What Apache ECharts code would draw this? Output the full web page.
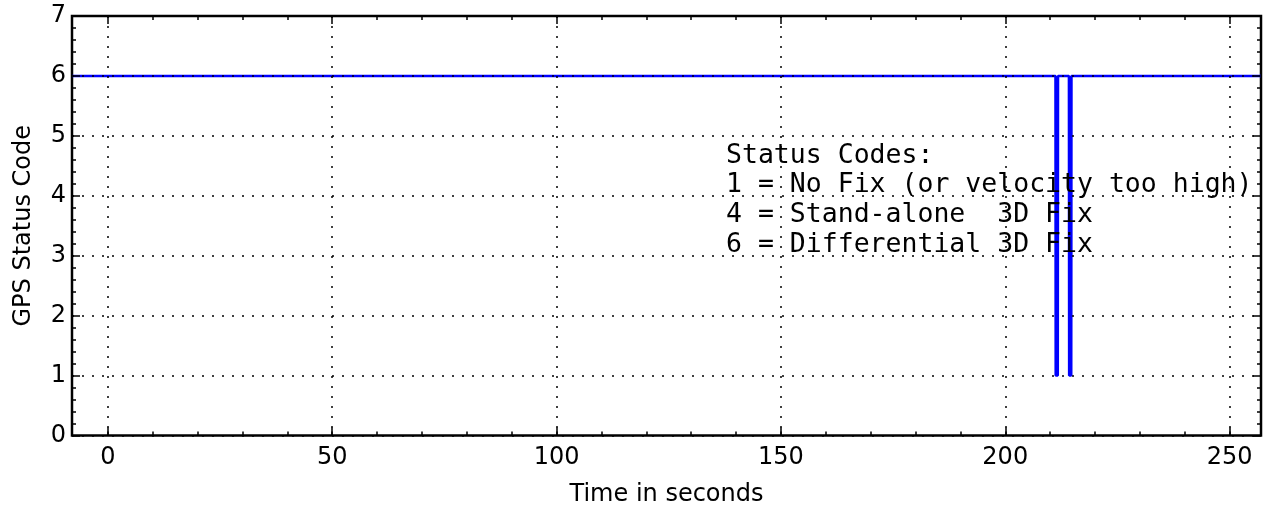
<!DOCTYPE html>
<html>
<head>
<meta charset="utf-8">
<title>GPS Status Code</title>
<script src="https://cdn.jsdelivr.net/npm/echarts@6/dist/echarts.min.js"></script>
<style>
	html, body { margin: 0; padding: 0; background: #fff; }
	#chart { width: 1267px; height: 506px; }
</style>
</head>
<body>
<div id="chart"></div>
<script>
// gps status over time
var times = [-8, 211.2, 211.25, 211.7, 211.75, 214.2, 214.25, 214.7, 214.75, 257]
var gpsStatus = [6, 6, 1, 1, 6, 6, 1, 1, 6, 6]

var xMajorTicks = [0, 50, 100, 150, 200, 250]
var xMinorTicks = [0, 10, 20, 30, 40, 50, 60, 70, 80, 90, 100, 110, 120, 130, 140, 150,
	160, 170, 180, 190, 200, 210, 220, 230, 240, 250]

var legendLines = [
	'Status Codes:',
	'1 = No Fix (or velocity too high)',
	'4 = Stand-alone  3D Fix',
	'6 = Differential 3D Fix'
]

var sans = 'DejaVu Sans'
var mono = 'DejaVu Sans Mono'

function xAxisOf(pos, ticks, len, withLabels) {
	return {
		type: 'value',
		position: pos,
		min: -8,
		max: 257,
		z: withLabels ? 5 : 4,
		axisLine: { show: false, onZero: false },
		axisTick: {
			show: true,
			inside: true,
			length: len,
			customValues: ticks,
			lineStyle: { color: '#000', width: 1.5 }
		},
		axisLabel: {
			show: withLabels,
			customValues: xMajorTicks,
			margin: 10,
			color: '#000',
			fontFamily: sans,
			fontSize: 24
		},
		splitLine: { show: false }
	}
}

function yAxisOf(pos, withLabels) {
	return {
		type: 'value',
		position: pos,
		min: 0,
		max: 7,
		interval: 1,
		z: 5,
		axisLine: { show: false, onZero: false },
		axisTick: { show: true, inside: true, length: 8, lineStyle: { color: '#000', width: 1.5 } },
		minorTick: { show: true, splitNumber: 5, length: 4, lineStyle: { color: '#000', width: 1.5 } },
		axisLabel: { show: withLabels, margin: 6, color: '#000', fontFamily: sans, fontSize: 24 },
		splitLine: {
			show: withLabels,
			lineStyle: { color: '#000', width: 1.5, type: [2, 8] }
		}
	}
}

var chart = echarts.init(document.getElementById('chart'))

var xMain = xAxisOf('bottom', xMajorTicks, 8, true)
xMain.name = 'Time in seconds'
xMain.nameLocation = 'middle'
xMain.nameGap = 47
xMain.nameTextStyle = { color: '#000', fontFamily: sans, fontSize: 24 }
xMain.splitLine = { show: true, lineStyle: { color: '#000', width: 1.5, type: [2, 8] } }

var yMain = yAxisOf('left', true)
yMain.name = 'GPS Status Code'
yMain.nameLocation = 'middle'
yMain.nameGap = 36
yMain.nameTextStyle = { color: '#000', fontFamily: sans, fontSize: 24 }

var seriesData = times.map(function (t, i) { return [t, gpsStatus[i]] })

chart.setOption({
	animation: false,
	backgroundColor: '#fff',
	grid: {
		left: 72,
		top: 16,
		right: 6,
		bottom: 70.5,
		outerBoundsMode: 'none',
		containLabel: false,
		show: true,
		borderColor: '#000',
		borderWidth: 2.5,
		backgroundColor: 'transparent'
	},
	xAxis: [
		xMain,
		xAxisOf('bottom', xMinorTicks, 4, false),
		xAxisOf('top', xMajorTicks, 8, false),
		xAxisOf('top', xMinorTicks, 4, false)
	],
	yAxis: [
		yMain,
		yAxisOf('right', false)
	],
	series: [{
		type: 'line',
		xAxisIndex: 0,
		yAxisIndex: 0,
		showSymbol: false,
		z: 2,
		lineStyle: { color: '#0000ff', width: 2.6 },
		data: seriesData
	}],
	graphic: [{
		type: 'text',
		left: 726,
		top: 141,
		z: 10,
		style: {
			text: legendLines.join('\n'),
			fontFamily: mono,
			fontSize: 26.5,
			lineHeight: 29.7,
			fill: '#000'
		}
	}]
})
</script>
</body>
</html>
